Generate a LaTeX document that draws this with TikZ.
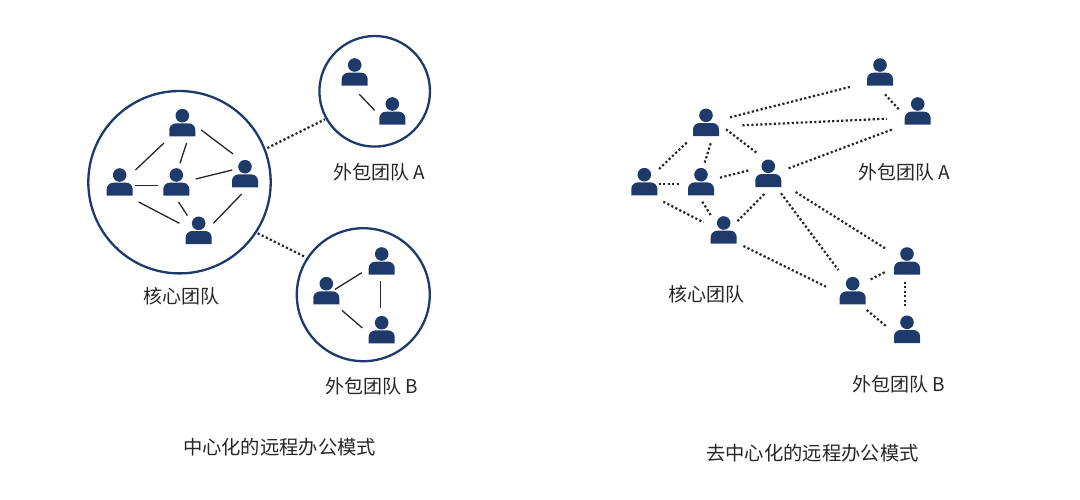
\documentclass[tikz,border=0pt]{standalone}
\usepackage{fontspec}
\setmainfont{Noto Sans CJK SC}
\definecolor{navy}{HTML}{1D3A6B}
\definecolor{ink}{HTML}{262626}
\tikzset{
    person/.style={rectangle, inner sep=0pt, minimum width=26pt, minimum height=27.4pt,
        path picture={
            \fill[navy] (path picture bounding box.center) ++(0,-7) circle[radius=6.8];
            \fill[navy] (path picture bounding box.center) ++(-13,13.7) -- ++(0,-6.5)
                arc[start angle=180, end angle=270, radius=6.5] -- ++(13,0)
                arc[start angle=270, end angle=360, radius=6.5] -- ++(0,6.5) -- cycle;
        }},
    team/.style={circle, draw=navy, line width=2.3pt, inner sep=0pt},
    teamtext/.style={font=\fontsize{19}{19}\selectfont, text=ink, inner sep=0pt},
    headtext/.style={font=\fontsize{19.3}{19.3}\selectfont, text=ink, inner sep=0pt},
    solidlink/.style={line width=1.3pt, ink},
    dotlink/.style={line width=2.2pt, ink, dash pattern=on 2.2pt off 2.3pt}
}
\begin{document}
\begin{tikzpicture}[x=1pt, y=-1pt]
    \useasboundingbox (0,0) rectangle (1080,499);

    % left picture
    \node[team, minimum size=182.4pt] (core) at (179.5,182.2) {};
    \node[team, minimum size=110.6pt] (teamA) at (374.7,91.3) {};
    \node[team, minimum size=133pt] (teamB) at (363.3,294.7) {};
    \foreach \name/\px/\py in {p1/182.3/122.7, p2/119.7/182, p3/176.3/182, p4/245/173.7, p5/198.7/230.3,
        a1/354.7/72, a2/392.3/111, b1/381.7/261, b2/326.3/290.7, b3/381.7/329.7}
        \node[person] (\name) at (\px,\py) {};

    \foreach \a/\ax/\ay/\b/\bx/\by in {
        p1/-18.3/20.3/p2/15.7/-12, p1/4.3/20.3/p3/3.7/-18.7, p1/19/7.3/p4/-12/-19.7,
        p2/15.7/3.3/p3/-18.3/3.3, p3/19.3/-3/p4/-12.7/-3.7, p2/19/20/p5/-19.3/-7,
        p3/2.3/20/p5/-11.3/-14.7, p4/-3.3/20.3/p5/14.7/-7, a1/4.7/22.3/a2/-17.7/-0.7,
        b2/8.7/-1.3/b1/-20/11.7, b1/-1/20.3/b3/-1/-22, b2/15.7/19.7/b3/-19.3/-1.7}
        \draw[solidlink] ([shift={(\ax,\ay)}]\a.center) -- ([shift={(\bx,\by)}]\b.center);

    \draw[dotlink] ([shift={(87.8,-34.2)}]core.center) -- ([shift={(-49.7,28)}]teamA.center);
    \draw[dotlink] ([shift={(78.2,51.1)}]core.center) -- ([shift={(-57.3,-37.4)}]teamB.center);

    \node[teamtext] (coreL) at (181,296) {核心团队};
    \node[teamtext] (teamAL) at (379,172) {外包团队 A};
    \node[teamtext] (teamBL) at (372,386) {外包团队 B};
    \node[headtext] (titleL) at (279.5,447) {中心化的远程办公模式};

    % right picture
    \foreach \name/\px/\py in {q1/706/122.3, q2/644.3/181.7, q3/701/181.7, q4/768.3/173.3, q5/723.7/230,
        r1/880/72, r2/917.7/111, s1/852.7/290.7, s2/907/261, s3/907/329.3}
        \node[person] (\name) at (\px,\py) {};

    \foreach \a/\ax/\ay/\b/\bx/\by in {
        q1/24/-5/r1/-29.3/14.7, q1/36.3/3/r2/-31/7.7, q1/20/7/q4/-11/-20,
        q1/-19.3/20.3/q2/14.3/-12.3, q1/4.7/21/q3/3.7/-19, q2/14.3/2/q3/-21/2,
        q3/19/-4/q4/-18.3/-3.3, q4/20.3/-5/r2/-25/18.3, r1/5/22.3/r2/-18.3/-1,
        q2/19/20/q5/-20.3/-7.7, q3/1.3/20/q5/-13/-15, q4/-4/20.7/q5/12.3/-7.3,
        q4/27.3/18.7/s2/-21.3/-12.3, q4/12.7/20/s1/-14.3/-20.7, q5/19.7/16/s1/-26.7/-4,
        s1/18/-11.3/s2/-21.3/10.7, s2/-1.7/20.7/s3/-1.7/-22, s1/14/19.3/s3/-20.3/-2.7}
        \draw[dotlink] ([shift={(\ax,\ay)}]\a.center) -- ([shift={(\bx,\by)}]\b.center);

    \node[teamtext] (coreR) at (706.5,294) {核心团队};
    \node[teamtext] (teamAR) at (904,172) {外包团队 A};
    \node[teamtext] (teamBR) at (898.5,384) {外包团队 B};
    \node[headtext] (titleR) at (812.5,453) {去中心化的远程办公模式};
\end{tikzpicture}
\end{document}
